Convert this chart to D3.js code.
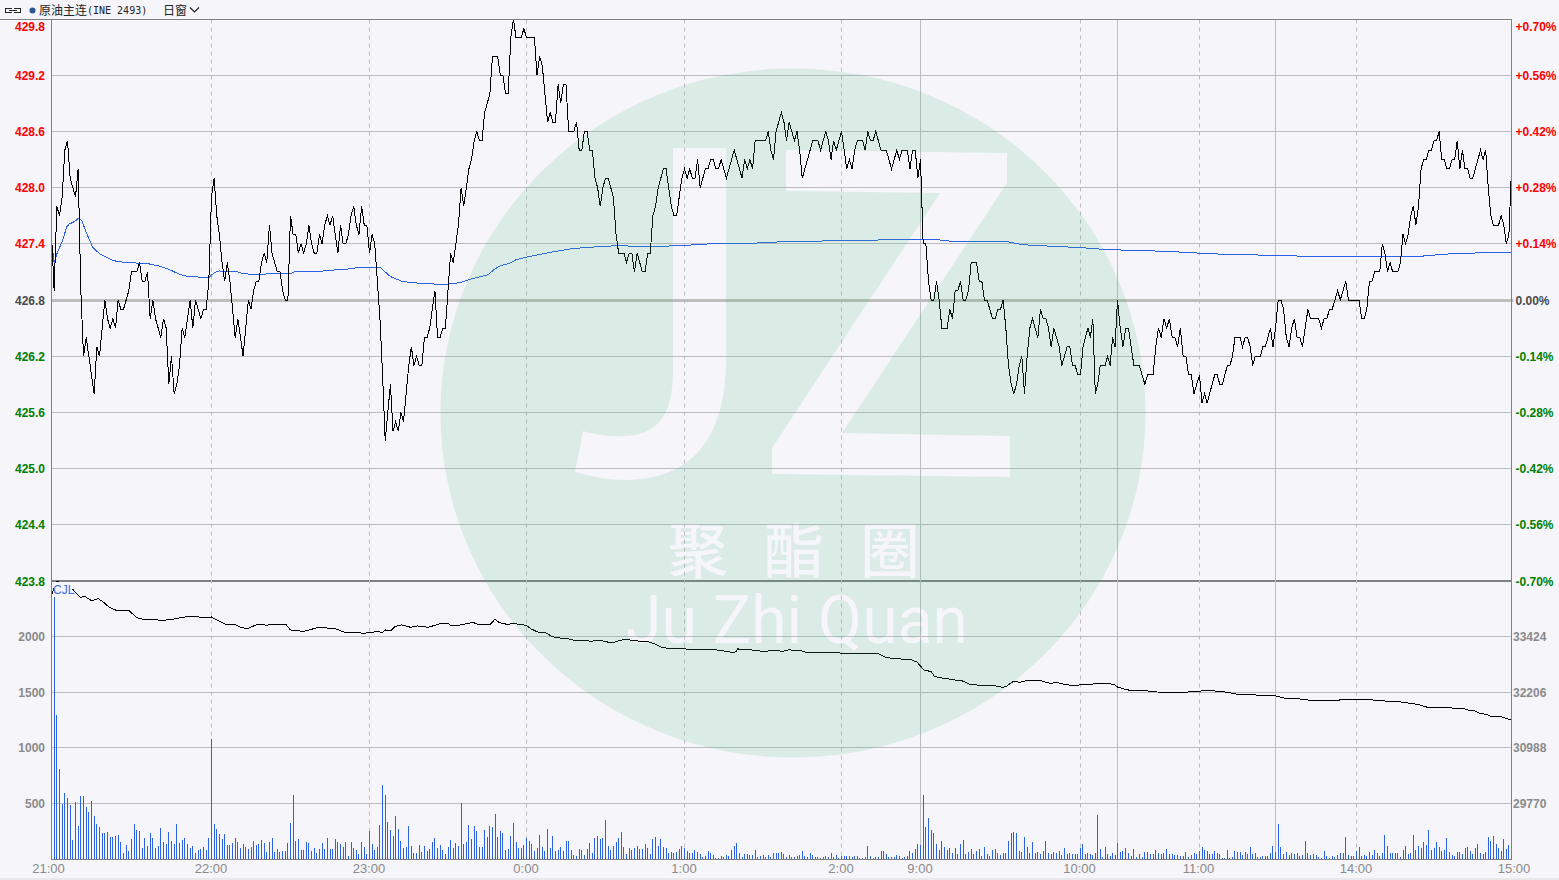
<!DOCTYPE html>
<html>
<head>
<meta charset="utf-8">
<script src="https://cdn.jsdelivr.net/npm/d3@7/dist/d3.min.js"></script>
<style>
html,body{margin:0;padding:0;background:#f5f5fa;overflow:hidden}
svg{display:block}
text{font-family:"Liberation Sans",Arial,sans-serif}
</style>
</head>
<body>
<svg id="chart" width="1559" height="880"></svg>
<script>
// ---- data ----
const title = "原油主连";
const contract = "(INE 2493)";
const periodLabel = "日窗";
const volumeLabel = "CJL";
const watermarkChars = ["聚","酯","圈"];
const watermarkLatin = "Ju Zhi Quan";

const sessionStops = [0,60,120,180,240,300,330,390,405,435,465,495,555];
const dashedMinutes = [60,120,180,240,300,390,435,495];
const solidMinutes = [330,405,465];
const timeMinutes = [0,60,120,180,240,300,330,390,435,495,555];
const timeLabels = ["21:00","22:00","23:00","0:00","1:00","2:00","9:00","10:00","11:00","14:00","15:00"];

const priceTicks = [429.8,429.2,428.6,428.0,427.4,426.8,426.2,425.6,425.0,424.4,423.8];
const pctLabels = ["+0.70%","+0.56%","+0.42%","+0.28%","+0.14%","0.00%","-0.14%","-0.28%","-0.42%","-0.56%","-0.70%"];
const volumeTicks = [2000,1500,1000,500];
const openInterestTicks = [33424,32206,30988,29770];

// one value per minute
const priceValues = [
427.5,426.9,427.8,427.7,427.9,428.4,428.5,428.1,428.0,427.9,
428.2,426.9,426.2,426.4,426.2,426.0,425.8,426.3,426.2,426.5,
426.8,426.6,426.5,426.6,426.5,426.8,426.7,426.7,426.8,426.9,
427.1,427.1,427.1,427.2,427.0,427.0,427.1,426.6,426.8,426.6,
426.5,426.4,426.6,426.5,425.9,426.2,425.8,425.9,426.1,426.5,
426.4,426.6,426.8,426.5,426.8,426.7,426.6,426.7,426.7,427.0,
427.9,428.1,427.7,427.5,427.2,427.0,427.2,427.0,426.7,426.4,
426.6,426.4,426.2,426.5,426.8,426.7,426.9,427.0,427.0,427.2,
427.3,427.2,427.6,427.3,427.2,427.1,427.1,426.9,426.8,426.8,
427.7,427.5,427.5,427.3,427.4,427.3,427.4,427.6,427.4,427.3,
427.3,427.5,427.4,427.6,427.7,427.6,427.7,427.5,427.3,427.6,
427.4,427.4,427.5,427.7,427.8,427.6,427.5,427.8,427.6,427.6,
427.3,427.5,427.4,427.0,426.6,426.0,425.3,425.6,425.9,425.4,
425.5,425.4,425.6,425.5,425.8,426.1,426.3,426.1,426.2,426.1,
426.1,426.4,426.4,426.5,426.7,426.9,426.4,426.4,426.5,426.5,
426.9,427.3,427.2,427.4,427.6,428.0,427.8,428.0,428.2,428.3,
428.5,428.6,428.5,428.5,428.8,428.9,429.0,429.4,429.4,429.4,
429.2,429.2,429.0,429.0,429.6,429.8,429.6,429.6,429.6,429.7,
429.6,429.6,429.6,429.6,429.2,429.4,429.3,429.0,428.7,428.8,
428.7,428.7,429.1,428.9,429.1,429.1,428.6,428.6,428.6,428.7,
428.4,428.4,428.6,428.6,428.4,428.4,428.1,428.0,427.8,428.0,
428.1,428.1,428.0,427.9,427.5,427.3,427.3,427.3,427.2,427.3,
427.3,427.1,427.3,427.2,427.1,427.1,427.3,427.3,427.7,427.8,
428.0,428.1,428.2,428.2,428.0,427.8,427.7,427.7,427.9,428.1,
428.2,428.1,428.2,428.1,428.1,428.3,428.0,428.1,428.2,428.2,
428.3,428.3,428.2,428.2,428.3,428.2,428.1,428.2,428.3,428.4,
428.3,428.2,428.1,428.3,428.2,428.3,428.2,428.5,428.5,428.5,
428.5,428.5,428.6,428.4,428.3,428.6,428.7,428.8,428.7,428.5,
428.7,428.6,428.5,428.6,428.4,428.1,428.2,428.3,428.4,428.5,
428.5,428.5,428.4,428.5,428.6,428.5,428.3,428.5,428.4,428.5,
428.6,428.4,428.2,428.3,428.2,428.4,428.5,428.5,428.5,428.4,
428.6,428.5,428.5,428.6,428.5,428.4,428.4,428.4,428.3,428.2,
428.3,428.4,428.3,428.4,428.4,428.4,428.2,428.4,428.4,428.1,
428.3,427.4,427.4,427.0,426.8,426.8,427.0,426.8,426.5,426.5,
426.5,426.7,426.6,426.9,426.9,427.0,426.8,426.8,426.9,427.2,
427.2,427.2,427.0,427.0,426.8,426.8,426.7,426.6,426.6,426.7,
426.7,426.8,426.5,426.1,425.9,425.8,425.9,426.1,426.2,425.8,
426.2,426.5,426.6,426.5,426.4,426.7,426.6,426.6,426.5,426.3,
426.5,426.4,426.3,426.1,426.2,426.3,426.3,426.1,426.1,426.0,
426.0,426.3,426.4,426.5,426.4,426.6,425.8,425.9,426.1,426.1,
426.1,426.2,426.1,426.4,426.3,426.8,426.5,426.3,426.5,426.5,
426.3,426.1,426.1,426.1,426.0,425.9,426.0,426.0,426.0,426.3,
426.5,426.4,426.6,426.5,426.6,426.4,426.4,426.3,426.5,426.2,
426.2,426.0,426.0,425.8,425.9,426.0,425.7,425.8,425.7,425.8,
425.9,426.0,426.0,425.9,425.9,426.0,426.1,426.1,426.2,426.4,
426.4,426.4,426.3,426.4,426.4,426.3,426.1,426.2,426.2,426.2,
426.3,426.3,426.4,426.5,426.3,426.5,426.8,426.8,426.7,426.4,
426.3,426.5,426.6,426.4,426.4,426.3,426.5,426.7,426.6,426.6,
426.6,426.6,426.5,426.6,426.6,426.7,426.7,426.8,426.9,426.8,
426.9,427.0,426.8,426.8,426.8,426.8,426.8,426.6,426.6,426.7,
427.0,427.0,427.1,427.1,427.1,427.4,427.3,427.1,427.2,427.1,
427.1,427.1,427.2,427.5,427.4,427.5,427.7,427.8,427.6,427.8,
428.2,428.3,428.3,428.4,428.4,428.5,428.5,428.6,428.3,428.3,
428.2,428.2,428.3,428.3,428.5,428.2,428.4,428.2,428.2,428.1,
428.1,428.2,428.3,428.4,428.3,428.4,428.0,427.7,427.6,427.6,
427.6,427.7,427.6,427.4,427.5,428.2
];

const volumeValues = [
200,2350,1290,805,495,590,550,485,175,510,
300,565,565,465,420,520,385,315,290,235,
235,245,200,200,210,215,155,55,130,75,
180,315,260,250,100,190,120,235,190,100,
120,280,155,135,245,165,135,315,145,170,
190,135,100,120,55,85,90,110,85,190,
1075,315,270,225,180,225,130,130,145,190,
155,100,135,110,90,110,165,130,135,170,
145,65,155,190,65,90,65,75,75,145,
325,575,165,180,85,85,155,145,75,100,
55,90,145,90,190,90,90,180,155,135,
110,155,30,155,100,85,50,155,110,50,
250,135,85,110,305,670,575,335,260,210,
385,270,165,100,110,300,120,55,55,130,
65,120,75,90,155,190,100,130,85,50,
110,175,100,145,120,505,135,155,305,180,
300,250,110,110,260,200,300,290,405,200,
250,235,85,90,210,325,155,100,100,130,
190,165,135,75,100,215,110,75,270,100,
210,75,85,110,75,165,165,85,40,30,
90,85,40,90,145,55,190,210,180,190,
350,120,85,120,155,190,245,110,50,100,
85,100,120,90,90,135,100,50,180,200,
120,180,110,100,55,65,55,65,90,120,
100,75,55,55,85,65,50,20,30,75,
55,40,10,10,30,20,40,30,85,120,
145,55,20,50,50,40,40,85,20,30,
40,20,40,20,55,55,55,65,50,20,
40,20,20,30,40,75,30,20,55,40,
20,20,10,20,30,20,55,20,40,10,
30,30,30,30,20,30,30,10,10,20,
120,30,10,20,20,75,75,50,20,20,
20,40,30,10,20,30,75,55,90,135,
130,575,290,370,260,235,135,85,165,110,
85,100,55,100,50,135,175,50,65,90,
50,75,90,30,110,50,30,85,90,55,
40,55,55,165,235,245,235,75,65,200,
110,55,155,55,65,50,75,165,55,50,
65,55,75,40,100,50,55,50,50,50,
100,135,50,55,50,40,55,395,90,20,
110,50,30,55,40,145,65,75,100,55,
30,90,20,50,20,65,65,50,50,85,
55,50,55,90,50,50,40,40,30,30,
65,20,40,55,50,75,110,85,75,50,
50,75,55,50,10,10,85,10,20,75,
65,65,40,65,50,110,50,55,20,20,
30,30,30,55,120,65,315,110,50,65,
40,55,50,55,30,40,165,55,40,50,
40,20,10,75,30,10,30,20,40,55,
55,200,40,30,30,75,110,30,40,30,
65,40,85,55,30,55,215,120,55,55,
55,55,20,85,120,50,55,215,85,120,
100,155,130,265,85,100,155,110,75,85,
190,65,40,30,65,65,50,100,110,75,
50,100,135,55,50,65,200,165,210,135,
100,75,180,90,130,305
];

// average price line, read at its visible corners
const avgMinutes = [
0,1,2.2,4,5.7,6.6,8.8,10,11.3,13.2,
15.5,18.2,23.2,27.6,35.8,40.8,44.6,48.3,51.5,59,
61,62.8,69.8,72.3,78.7,81.2,90,91.5,98.9,106.5,
111.5,116.6,124,126.8,128,132.4,134.9,138.7,145,150,
153.3,155,159.6,165.3,167.8,170.4,173.5,176,180.5,185.6,
191.3,197.7,207.9,214.2,227,238.2,249.8,260,269,276,
292.7,313,329,334.3,340.6,354.4,363,368.5,381.7,390,
399.4,410,422.7,435,443,458.5,472.3,495,517,529.2,
539.6,547.7,555
];
const avgValues = [
427.44,427.19,427.31,427.42,427.58,427.61,427.64,427.67,427.65,427.51,
427.36,427.29,427.22,427.20,427.19,427.16,427.12,427.07,427.05,427.04,
427.09,427.11,427.10,427.08,427.07,427.08,427.08,427.10,427.10,427.12,
427.13,427.15,427.15,427.08,427.05,427.00,426.99,426.98,426.97,426.97,
426.98,426.99,427.03,427.07,427.13,427.17,427.19,427.23,427.26,427.29,
427.32,427.35,427.37,427.38,427.37,427.38,427.40,427.40,427.41,427.42,
427.43,427.44,427.45,427.45,427.43,427.42,427.42,427.39,427.37,427.36,
427.34,427.33,427.32,427.30,427.29,427.28,427.27,427.26,427.26,427.29,
427.30,427.31,427.31
];

// open interest line, read at its visible corners
const oiMinutes = [
0,2,8,9.2,10.7,12.6,15,17.6,19.5,21.7,
24.3,28.9,30.2,32,34.3,39,40.9,46,48.5,51,
53.6,56,59,60,62,66,69,70.4,73.5,76,
78,81,82.4,88.4,90,92,95,97.6,100,102.6,
104.5,107,110.3,114,118,120.4,123,124.9,126.2,128.3,
129.6,132.3,135.7,138.4,142.5,146.6,150,150.9,153.4,156.7,
159.5,161.5,166.2,167.9,169.6,173,174.4,179.8,181.8,184.5,
187.2,189.3,191.3,195.4,199.5,202.2,204.3,207.7,212.5,214.5,
216.6,221.4,223.4,225.4,228.2,230.9,234.3,240.5,243.2,244.5,
249.3,251.4,258.2,259.6,260.3,263.7,269.6,275,277.7,279.8,
283.9,285.9,290,294.8,297.5,301,313.8,317.1,321.8,325.9,
328.6,331.3,334,335.3,337.3,342.9,345.7,348.5,352.6,356.8,
361,362.4,364.8,367.2,370,375.6,378.4,381.2,384.7,388.1,
390.2,394.7,396.2,400.7,403.7,405.2,407.9,410.6,414,419.4,
424.8,430.2,432.3,435,437.2,444.4,448,451.6,454.6,456.8,
464.7,468.9,473,476.5,486.1,488.9,490.3,491.6,495.1,498.6,
502.9,505.8,512.2,516.5,519.4,521.5,526.5,528.6,531.5,536.5,
538.6,540.4,542.9,545.7,546.5,551.4,554.3,555
];
const oiValues = [
34326,34630,34450,34363,34276,34289,34202,34246,34166,34056,
33991,33991,33925,33831,33795,33795,33765,33801,33831,33852,
33860,33838,33838,33845,33780,33670,33685,33634,33590,33649,
33692,33663,33685,33670,33561,33546,33532,33568,33612,33620,
33598,33590,33517,33510,33489,33510,33525,33510,33562,33547,
33634,33671,33620,33649,33620,33693,33707,33656,33656,33693,
33729,33678,33685,33795,33722,33678,33707,33663,33583,33510,
33503,33430,33394,33372,33321,33343,33314,33336,33277,33314,
33350,33336,33299,33314,33270,33190,33154,33146,33125,33139,
33139,33132,33074,33081,33146,33139,33095,33110,33095,33125,
33117,33081,33059,33066,33066,33052,33052,32957,32928,32921,
32862,32688,32651,32542,32519,32469,32447,32374,32352,32352,
32308,32337,32439,32418,32461,32447,32396,32410,32367,32337,
32374,32374,32396,32396,32367,32308,32265,32228,32243,32206,
32199,32199,32221,32221,32243,32214,32177,32141,32155,32141,
32126,32061,32061,32032,32017,32032,32046,32032,32046,32046,
32024,32010,31988,31951,31930,31879,31871,31857,31857,31849,
31799,31806,31733,31718,31682,31660,31602,31595
];

// ---- layout ----
const W = 1559, H = 880;
const plotLeft = 51.5, plotRight = 1511.5, plotTop = 19.5, plotBottom = 859.5;
const bg = "#f5f5fa", gridColor = "#bcbcc2", axisColor = "#808084";
const lineBlue = "#2b62e3", up = "#ff0000", down = "#008000", flat = "#4a4a4a", neutral = "#8a8a8a";

const svg = d3.select("#chart");
const x = d3.scaleLinear().domain(sessionStops)
  .range([51.5,211.5,369.5,526.5,684.5,841.5,920.5,1080.5,1117.5,1199.5,1275.5,1356.5,1511.5]);
const yPrice = d3.scaleLinear().domain([423.8,429.8]).range([581,19]);
const yVol = d3.scaleLinear().domain([0,2000]).range([859.25,636.25]);
const yOi = d3.scaleLinear().domain([28552,33424]).range([859.25,636.25]);
const snap = v => Math.floor(v) + 0.5;

svg.append("rect").attr("width",W).attr("height",H).attr("fill",bg);
svg.append("rect").attr("y",878).attr("width",W).attr("height",2).attr("fill","#e9e9ec");

const plot = svg.append("g");

// horizontal grid
plot.append("g").selectAll("line").data(priceTicks.filter(d => d !== 429.8 && d !== 426.8 && d !== 423.8))
  .join("line").attr("x1",plotLeft).attr("x2",plotRight)
  .attr("y1",d => snap(yPrice(d))).attr("y2",d => snap(yPrice(d)))
  .attr("stroke",gridColor);
plot.append("g").selectAll("line").data(volumeTicks)
  .join("line").attr("x1",plotLeft).attr("x2",plotRight)
  .attr("y1",d => snap(yVol(d))).attr("y2",d => snap(yVol(d)))
  .attr("stroke",gridColor);
plot.append("line").attr("x1",plotLeft).attr("x2",plotRight+2)
  .attr("y1",snap(yPrice(426.8))).attr("y2",snap(yPrice(426.8)))
  .attr("stroke","#bdbdbd").attr("stroke-width",3);
plot.append("line").attr("x1",plotLeft).attr("x2",plotRight)
  .attr("y1",yPrice(423.8)).attr("y2",yPrice(423.8))
  .attr("stroke",axisColor).attr("stroke-width",2);

// vertical grid
plot.append("g").selectAll("line").data(dashedMinutes)
  .join("line").attr("x1",d => x(d)).attr("x2",d => x(d))
  .attr("y1",plotTop).attr("y2",plotBottom)
  .attr("stroke",gridColor).attr("stroke-dasharray","4 4");
plot.append("g").selectAll("line").data(solidMinutes)
  .join("line").attr("x1",d => x(d)).attr("x2",d => x(d))
  .attr("y1",plotTop).attr("y2",plotBottom)
  .attr("stroke",gridColor);

// volume bars
plot.append("g").selectAll("rect").data(volumeValues)
  .join("rect")
  .attr("x",(d,i) => Math.floor(x(i)))
  .attr("width",1)
  .attr("y",d => yVol(d))
  .attr("height",d => yVol(0) - yVol(d))
  .attr("fill",lineBlue)
  .attr("shape-rendering","crispEdges");

// open interest line
const oiLine = d3.line().x(d => x(d[0])).y(d => yOi(d[1]));
plot.append("path").datum(d3.zip(oiMinutes,oiValues)).attr("d",oiLine)
  .attr("fill","none").attr("stroke","#000").attr("stroke-width",1).attr("shape-rendering","crispEdges");

// volume caption sits over the open interest line
plot.append("rect").attr("x",54).attr("y",582).attr("width",18).attr("height",14).attr("fill",bg);
plot.append("text").text(volumeLabel).attr("x",53).attr("y",593.5)
  .attr("font-size",12).attr("fill","#3d6fe6");

// average and price lines
const avgLine = d3.line().x(d => x(d[0])).y(d => yPrice(d[1]));
plot.append("path").datum(d3.zip(avgMinutes,avgValues)).attr("d",avgLine)
  .attr("fill","none").attr("stroke",lineBlue).attr("stroke-width",1).attr("shape-rendering","crispEdges");
const priceLine = d3.line().x((d,i) => x(i)).y(d => yPrice(d));
plot.append("path").datum(priceValues).attr("d",priceLine)
  .attr("fill","none").attr("stroke","#000").attr("stroke-width",1).attr("shape-rendering","crispEdges");

// watermark drawn as a translucent layer with letters cut out
const defs = svg.append("defs");
const mask = defs.append("mask").attr("id","wm").attr("maskUnits","userSpaceOnUse")
  .attr("x",0).attr("y",0).attr("width",W).attr("height",H);
mask.append("rect").attr("width",W).attr("height",H).attr("fill","#fff");
mask.append("path").attr("fill","#000")
  .attr("d","M673,148 L726,148 L726,360 C726,440 690,480 625,480 C605,480 590,476 575,472 L583,431 C597,435 610,437 625,436 C658,435 673,415 673,370 Z");
mask.append("path").attr("fill","#000")
  .attr("d","M786,150 L1007,153 L1007,183 L842,433 L1010,436 L1010,477 L772,474 L772,448 L940,193 L786,191 Z");
mask.append("g").selectAll("text").data(watermarkChars).join("text")
  .text(d => d)
  .attr("x",(d,i) => 698 + i*96).attr("y",573)
  .attr("text-anchor","middle").attr("fill","#000")
  .style("font-family",'"Noto Sans CJK SC"').style("font-size","60px").style("font-weight",500);
mask.append("text").text(watermarkLatin).attr("x",626).attr("y",643)
  .attr("fill","#000").attr("textLength",342).attr("lengthAdjust","spacingAndGlyphs")
  .style("font-family",'"Roboto"').style("font-size","66px").style("font-weight",400);
svg.append("ellipse").attr("cx",793).attr("cy",413).attr("rx",352.5).attr("ry",344.5)
  .attr("fill","rgb(72,178,123)").attr("fill-opacity",0.15).attr("mask","url(#wm)");

// frame
const frame = svg.append("g").attr("stroke",axisColor).attr("shape-rendering","crispEdges");
frame.append("line").attr("x1",0).attr("x2",plotRight).attr("y1",plotTop).attr("y2",plotTop);
frame.append("line").attr("x1",plotLeft).attr("x2",plotRight).attr("y1",plotBottom).attr("y2",plotBottom);
frame.append("line").attr("x1",plotLeft).attr("x2",plotLeft).attr("y1",plotTop).attr("y2",plotBottom);
frame.append("line").attr("x1",plotRight).attr("x2",plotRight).attr("y1",plotTop).attr("y2",plotBottom);

// axes
function bare(g){ g.select(".domain").remove(); g.attr("font-family",null).attr("font-size",null); }
const priceColor = d => d > 426.8 ? up : d < 426.8 ? down : flat;
const nudged = [426.8,423.8,1500,32206];

function styleValueAxis(g, colour){
  g.selectAll("text").style("font","bold 12px 'Liberation Sans'").attr("fill",colour);
  g.selectAll(".tick").filter(d => d === 429.8).select("text").attr("y",8);
  g.selectAll(".tick").filter(d => nudged.includes(d)).select("text").attr("y",1);
}

const leftPrice = svg.append("g").attr("transform","translate(51,0)")
  .call(d3.axisLeft(yPrice).tickValues(priceTicks).tickFormat(d3.format(".1f")).tickSize(0).tickPadding(6))
  .call(bare);
styleValueAxis(leftPrice, priceColor);

const rightPrice = svg.append("g").attr("transform","translate(1511,0)")
  .call(d3.axisRight(yPrice).tickValues(priceTicks).tickFormat((d,i) => pctLabels[i]).tickSize(0).tickPadding(4.5))
  .call(bare);
styleValueAxis(rightPrice, priceColor);

const leftVol = svg.append("g").attr("transform","translate(51,0)")
  .call(d3.axisLeft(yVol).tickValues(volumeTicks).tickFormat(d3.format("d")).tickSize(0).tickPadding(6))
  .call(bare);
styleValueAxis(leftVol, neutral);

const rightOi = svg.append("g").attr("transform","translate(1511,0)")
  .call(d3.axisRight(yOi).tickValues(openInterestTicks).tickFormat(d3.format("d")).tickSize(0).tickPadding(2))
  .call(bare);
styleValueAxis(rightOi, neutral);

const bottom = svg.append("g").attr("transform","translate(0,859)")
  .call(d3.axisBottom(x).tickValues(timeMinutes).tickFormat((d,i) => timeLabels[i]).tickSize(0).tickPadding(5))
  .call(bare);
bottom.selectAll("text").style("font","13px 'Liberation Sans'").attr("fill",neutral).attr("x",-1);
bottom.selectAll(".tick").filter(d => d === 0).select("text").attr("x",-3.5);
bottom.selectAll(".tick").filter(d => d === 390 || d === 435).select("text").attr("x",-1.5);
bottom.selectAll(".tick").filter(d => d === 555).select("text").attr("x",2);

// header
const header = svg.append("g");
header.append("path")
  .attr("d","M12,8 H5.5 V12.5 H12 M14,8 H20.5 V12.5 H14 M9,10.5 H17")
  .attr("fill","none").attr("stroke","#222").attr("stroke-width",1).attr("shape-rendering","crispEdges");
header.append("circle").attr("cx",32.5).attr("cy",10.5).attr("r",3).attr("fill","#2b5797");
header.append("text").text(title).attr("x",39).attr("y",14.5)
  .style("font",'12px "Noto Sans CJK SC"').attr("fill","#222");
header.append("text").text(contract).attr("x",87).attr("y",14)
  .style("font",'10px "DejaVu Sans Mono"').attr("fill","#222");
header.append("text").text(periodLabel).attr("x",163).attr("y",14.5)
  .style("font",'12px "Noto Sans CJK SC"').attr("fill","#222");
header.append("path").attr("d","M190,7.5 L194.5,12 L199,7.5").attr("fill","none").attr("stroke","#222").attr("stroke-width",1.2);
</script>
</body>
</html>
